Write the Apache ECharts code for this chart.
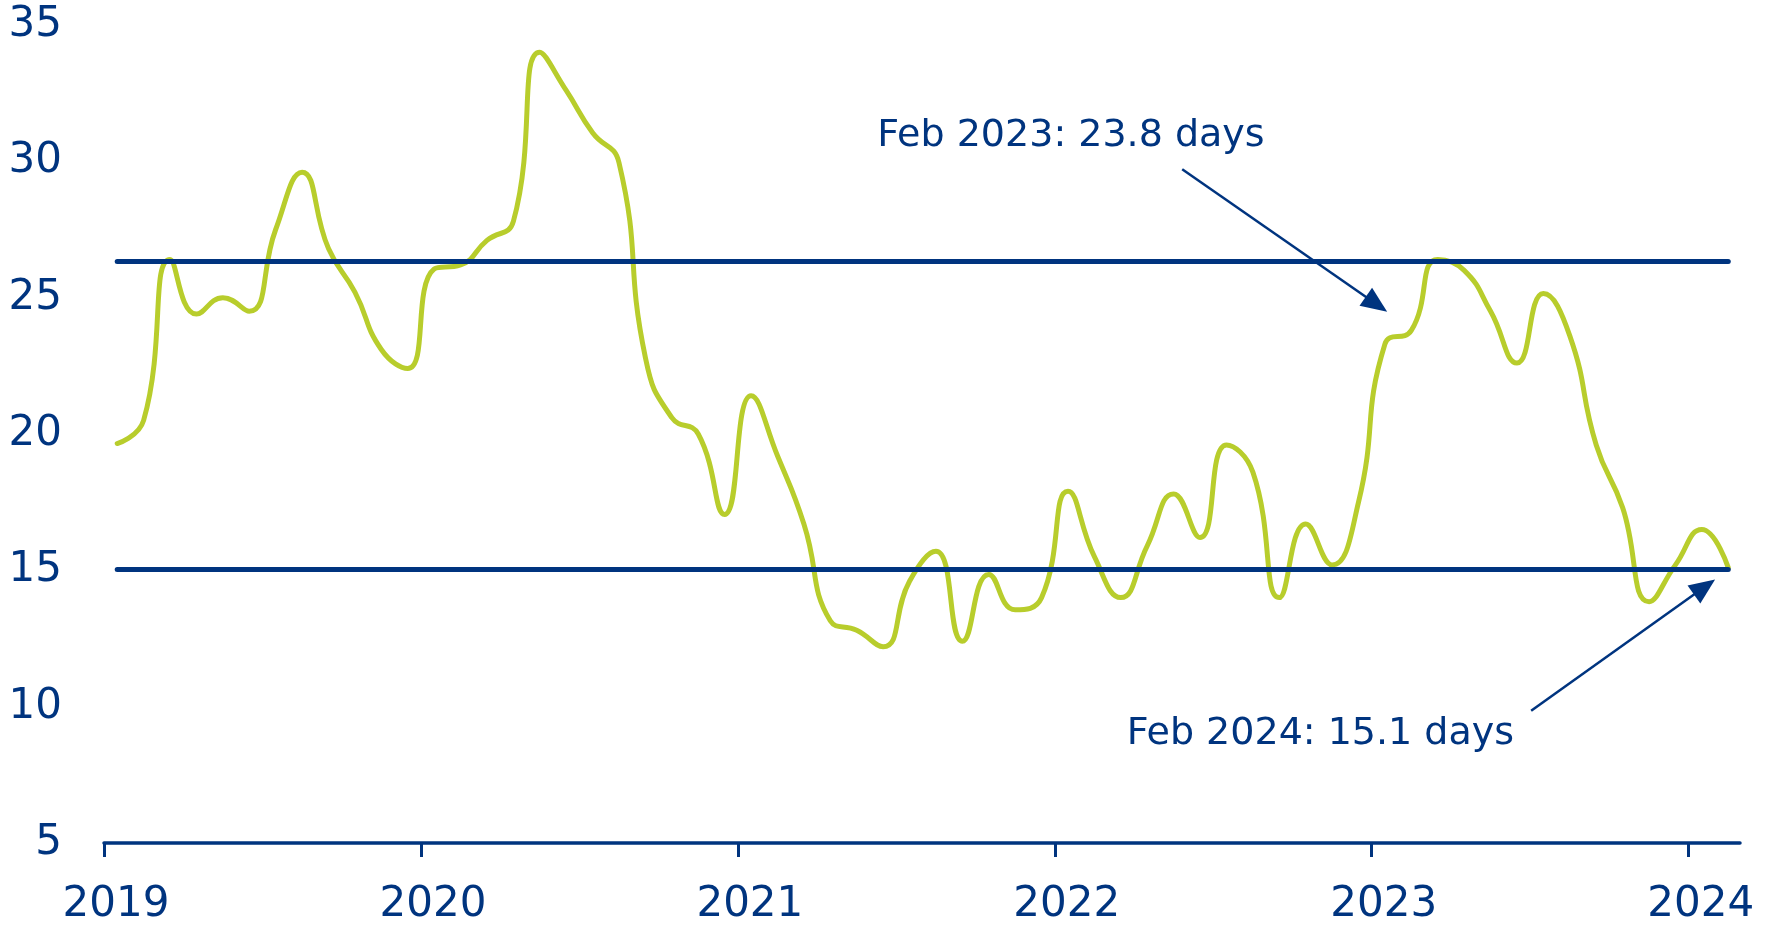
<!DOCTYPE html>
<html>
<head>
<meta charset="utf-8">
<script src="https://cdn.jsdelivr.net/npm/echarts@6/dist/echarts.min.js"></script>
<style>
  html, body { margin: 0; padding: 0; background: #ffffff; }
  #chart { width: 1777px; height: 926px; }
</style>
</head>
<body>
<div id="chart"></div>
<script>
// ---- data ----
const startYear = 2019;
// monthly values, Jan 2019 .. Feb 2024 (days)
const values2019 = [19.65, 20.5, 26.4, 24.4, 25.0, 24.5, 27.5, 29.6, 26.8, 25.2, 23.1, 22.4];
const values2020 = [26.05, 26.2, 27.1, 27.8, 34.0, 32.6, 31.05, 29.95, 22.8, 20.6, 20.0, 17.05];
const values2021 = [21.4, 19.2, 16.7, 13.15, 12.8, 12.2, 14.6, 15.7, 12.4, 14.85, 13.55, 14.0];
const values2022 = [17.9, 15.5, 14.0, 15.9, 17.8, 16.2, 19.6, 18.6, 14.0, 16.7, 15.2, 17.5];
const values2023 = [23.3, 23.8, 26.4, 26.0, 24.5, 22.6, 25.15, 23.6, 19.6, 17.3, 13.85, 15.2];
const values2024 = [16.5, 15.1];
const yearTicks = [2019, 2020, 2021, 2022, 2023, 2024];
const yTicks = [5, 10, 15, 20, 25, 30, 35];
const bandUpper = 26.34;
const bandLower = 15.03;
const noteTexts = ['Feb 2023: 23.8 days', 'Feb 2024: 15.1 days'];
const noteAnchors = [[2021.440, 30.94], [2022.227, 9.01]];
const arrowFrom = [[2022.402, 29.71], [2023.503, 9.85]];
const arrowTo = [[2023.015, 24.76], [2024.050, 14.39]];

// ---- build ----
const allValues = [].concat(values2019, values2020, values2021, values2022, values2023, values2024);
const seriesData = allValues.map((v, i) => [startYear + (i + 0.5) / 12, v]);
const xFirst = seriesData[0][0];
const xLast = seriesData[seriesData.length - 1][0];

const NAVY = '#00347F';
const GREEN = '#B8CD2C';
const FONT = 'DejaVu Sans';

const chart = echarts.init(document.getElementById('chart'), null, { renderer: 'canvas' });
chart.setOption({
  animation: false,
  backgroundColor: '#ffffff',
  textStyle: { fontFamily: FONT },
  grid: { left: 104, right: 37, top: 25, bottom: 79, containLabel: false },
  xAxis: {
    type: 'value',
    min: 2019,
    max: 2024.162,
    interval: 1,
    axisLine: { show: true, lineStyle: { color: NAVY, width: 3.5 } },
    axisTick: { show: true, length: 14, customValues: yearTicks, lineStyle: { color: NAVY, width: 3 } },
    axisLabel: {
      customValues: yearTicks,
      formatter: v => String(Math.round(v)),
      color: NAVY, fontSize: 42, fontFamily: FONT, margin: 41,
      padding: [0, 0, 0, 24]
    },
    splitLine: { show: false }
  },
  yAxis: {
    type: 'value',
    min: 5,
    max: 35,
    interval: 5,
    axisLine: { show: false },
    axisTick: { show: false },
    splitLine: { show: false },
    axisLabel: { color: NAVY, fontSize: 42, fontFamily: FONT, margin: 42,
      padding: [18, 0, 0, 0],
      formatter: v => (yTicks.indexOf(v) >= 0 ? String(v) : '') }
  },
  series: [
    {
      name: 'days',
      type: 'line',
      data: seriesData,
      smooth: 0.5,
      showSymbol: false,
      symbol: 'none',
      lineStyle: { color: GREEN, width: 5, cap: 'round', join: 'round', opacity: 1 },
      z: 2,
      silent: true
    },
    {
      name: 'band',
      type: 'line',
      data: [],
      z: 3,
      silent: true,
      markLine: {
        silent: true,
        symbol: ['none', 'none'],
        label: { show: false },
        lineStyle: { color: NAVY, width: 5, type: 'solid', cap: 'round', opacity: 1 },
        emphasis: { disabled: true },
        data: [
          [{ coord: [xFirst, bandUpper] }, { coord: [xLast, bandUpper] }],
          [{ coord: [xFirst, bandLower] }, { coord: [xLast, bandLower] }]
        ]
      }
    },
    {
      name: 'notes',
      type: 'scatter',
      symbolSize: 0,
      silent: true,
      z: 4,
      itemStyle: { opacity: 1 },
      data: noteAnchors.map((p, i) => ({ value: p, name: noteTexts[i] })),
      label: {
        show: true,
        position: 'right',
        distance: 0,
        formatter: p => p.name,
        color: NAVY,
        opacity: 1,
        fontSize: 38,
        fontFamily: FONT
      },
      markLine: {
        silent: true,
        symbol: ['none', 'triangle'],
        symbolSize: [22, 26],
        label: { show: false },
        lineStyle: { color: NAVY, width: 2.5, type: 'solid', opacity: 1 },
        itemStyle: { color: NAVY },
        emphasis: { disabled: true },
        data: arrowFrom.map((p, i) => [{ coord: p }, { coord: arrowTo[i] }])
      }
    }
  ]
});
</script>
</body>
</html>
